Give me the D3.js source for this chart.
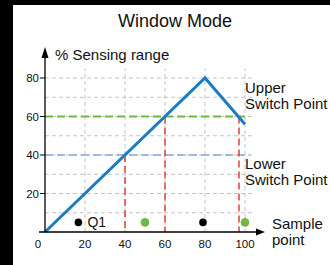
<!DOCTYPE html>
<html>
<head>
<meta charset="utf-8">
<script src="https://cdn.jsdelivr.net/npm/d3@7"></script>
<style>
  body { margin: 0; background: #fff; }
  svg text { font-family: "Liberation Sans", Arial, sans-serif; fill: #111; }
</style>
</head>
<body>
<div id="chart"></div>
<script>
// sensing curve (sample point, % sensing range)
var curveX = [0, 80, 100];
var curveY = [0, 80, 56];
// switch points
var upperSwitch = 60;
var lowerSwitch = 40;
// sample points where output switches
var switchSamples = [40, 60, 97];
var switchLevels = [40, 60, 60];
// Q1 state markers
var dotX = [16.7, 50, 79, 100];
var dotY = [5, 5, 5, 5];
var dotOn = [true, false, true, false];
var xTicks = [0, 20, 40, 60, 80, 100];
var yTicks = [20, 40, 60, 80];

var W = 330, H = 265;
var svg = d3.select("#chart").append("svg")
    .attr("width", W).attr("height", H);

// black frame strips
svg.append("rect").attr("x", 0).attr("y", 0).attr("width", W).attr("height", 5).attr("fill", "#000");
svg.append("rect").attr("x", 0).attr("y", 0).attr("width", 13).attr("height", H).attr("fill", "#000");

var x = d3.scaleLinear().domain([0, 100]).range([45, 245]);
var y = d3.scaleLinear().domain([0, 80]).range([232, 78]);

// grid
var grid = svg.append("g")
    .attr("stroke", "#c4c4c4").attr("stroke-width", 1).attr("stroke-dasharray", "4,3");
grid.selectAll(".h").data(d3.range(10, 81, 10)).enter().append("line")
    .attr("x1", x(0)).attr("x2", x(104))
    .attr("y1", function(d) { return y(d); }).attr("y2", function(d) { return y(d); });
grid.selectAll(".v").data(xTicks.slice(1)).enter().append("line")
    .attr("x1", function(d) { return x(d); }).attr("x2", function(d) { return x(d); })
    .attr("y1", y(0)).attr("y2", y(85));

// switch point levels
svg.append("line")
    .attr("x1", x(0)).attr("x2", x(101.5))
    .attr("y1", y(upperSwitch)).attr("y2", y(upperSwitch))
    .attr("stroke", "#6cbb3c").attr("stroke-width", 2).attr("stroke-dasharray", "8,4");
svg.append("line")
    .attr("x1", x(0)).attr("x2", x(102.5))
    .attr("y1", y(lowerSwitch)).attr("y2", y(lowerSwitch))
    .attr("stroke", "#8aa6d8").attr("stroke-width", 1.5).attr("stroke-dasharray", "8,4");

// switch samples
svg.selectAll(".sw").data(switchSamples).enter().append("line")
    .attr("x1", function(d) { return x(d); }).attr("x2", function(d) { return x(d); })
    .attr("y1", function(d, i) { return y(switchLevels[i]); }).attr("y2", y(0))
    .attr("stroke", "#e4412f").attr("stroke-width", 1.5).attr("stroke-dasharray", "7,4");

// sensing curve
var line = d3.line()
    .x(function(d) { return x(d[0]); })
    .y(function(d) { return y(d[1]); });
svg.append("path")
    .datum(d3.zip(curveX, curveY))
    .attr("d", line)
    .attr("fill", "none").attr("stroke", "#1a7cc4").attr("stroke-width", 3);

// dots
svg.selectAll(".dot").data(dotX).enter().append("circle")
    .attr("cx", function(d) { return x(d); })
    .attr("cy", function(d, i) { return y(dotY[i]); })
    .attr("r", function(d, i) { return dotOn[i] ? 3.8 : 4.3; })
    .attr("fill", function(d, i) { return dotOn[i] ? "#000" : "#72b843"; });
svg.append("text").attr("x", x(dotX[0]) + 9).attr("y", y(dotY[0]) + 5)
    .style("font-size", "14px").text("Q1");

// axes
svg.append("line").attr("x1", 39).attr("x2", 257).attr("y1", y(0)).attr("y2", y(0))
    .attr("stroke", "#000").attr("stroke-width", 1.3);
svg.append("path").attr("d", "M256,228.5 L265,232 L256,235.5 Z").attr("fill", "#000");
svg.append("line").attr("x1", x(0)).attr("x2", x(0)).attr("y1", y(0)).attr("y2", 56)
    .attr("stroke", "#000").attr("stroke-width", 1.3);
svg.append("path").attr("d", "M41.5,58 L45,47 L48.5,58 Z").attr("fill", "#000");

svg.selectAll(".yt").data(yTicks).enter().append("line")
    .attr("x1", 40).attr("x2", x(0))
    .attr("y1", function(d) { return y(d); }).attr("y2", function(d) { return y(d); })
    .attr("stroke", "#000").attr("stroke-width", 1);
svg.selectAll(".yl").data(yTicks).enter().append("text")
    .attr("x", 39).attr("y", function(d) { return y(d) + 4; })
    .attr("text-anchor", "end").style("font-size", "11.5px")
    .text(function(d) { return d; });
svg.selectAll(".xl").data(xTicks).enter().append("text")
    .attr("x", function(d) { return d === 0 ? x(d) - 7 : x(d); }).attr("y", 248)
    .attr("text-anchor", "middle").style("font-size", "11.5px")
    .text(function(d) { return d; });

// labels
svg.append("text").attr("x", 175).attr("y", 27).attr("text-anchor", "middle")
    .style("font-size", "18px").text("Window Mode");
svg.append("text").attr("x", 55).attr("y", 60).style("font-size", "15px").text("% Sensing range");

function twoLine(xp, yp, a, b) {
  var t = svg.append("text").attr("x", xp).attr("y", yp).style("font-size", "15px");
  t.append("tspan").attr("x", xp).text(a);
  t.append("tspan").attr("x", xp).attr("dy", 16).text(b);
}
twoLine(245, 93, "Upper", "Switch Point");
twoLine(245, 169, "Lower", "Switch Point");
twoLine(272, 229, "Sample", "point");
</script>
</body>
</html>
